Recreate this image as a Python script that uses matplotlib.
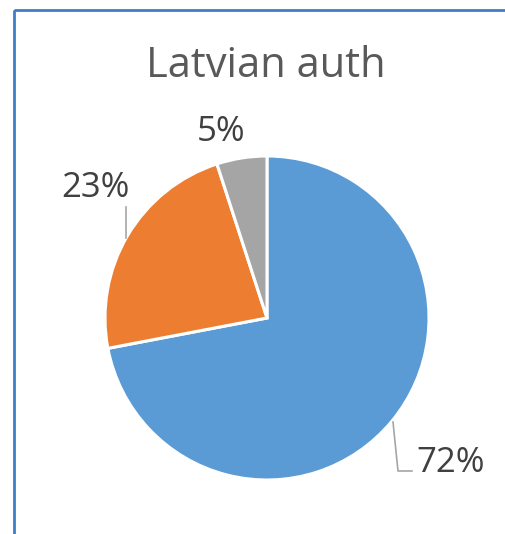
import numpy as np
import matplotlib
matplotlib.use("Agg")
import matplotlib.pyplot as plt
from matplotlib.patches import Rectangle

title = "Latvian auth"
shares = [72, 23, 5]
labels = ["72%", "23%", "5%"]
colors = ["#5B9BD5", "#ED7D31", "#A5A5A5"]

W, H = 506, 534
fig = plt.figure(figsize=(W / 100, H / 100), dpi=100)
ax = fig.add_axes([0, 0, 1, 1])

# pie in pixel units, y axis pointing down (so counterclock=True reads clockwise)
ax.pie(shares, colors=colors, startangle=-90, counterclock=True,
       center=(267, 318), radius=162,
       wedgeprops={"edgecolor": "white", "linewidth": 2.2})
ax.set_xlim(0, W)
ax.set_ylim(H, 0)
ax.set_aspect("auto")
ax.axis("off")

# chart frame
ax.add_patch(Rectangle((14, 10), 520, 560, fill=False, edgecolor="#3D7EC6",
                       linewidth=2.0, clip_on=False))

ax.text(266, 77, title, ha="center", va="baseline", fontsize=30,
        color="#595959", family="Open Sans")

# label anchors: centre x, baseline y
label_pos = [(451, 472), (95, 197), (221, 141)]
for (x, y), lab in zip(label_pos, labels):
    ax.text(x, y, lab, ha="center", va="baseline", fontsize=25,
            color="#404040", family="Open Sans")

# leader lines
ax.plot([393, 398, 412], [422, 471, 471], color="#A6A6A6", lw=1.2)
ax.plot([126, 126], [207, 238], color="#A6A6A6", lw=1.2)

fig.savefig("out.png", dpi=100)
